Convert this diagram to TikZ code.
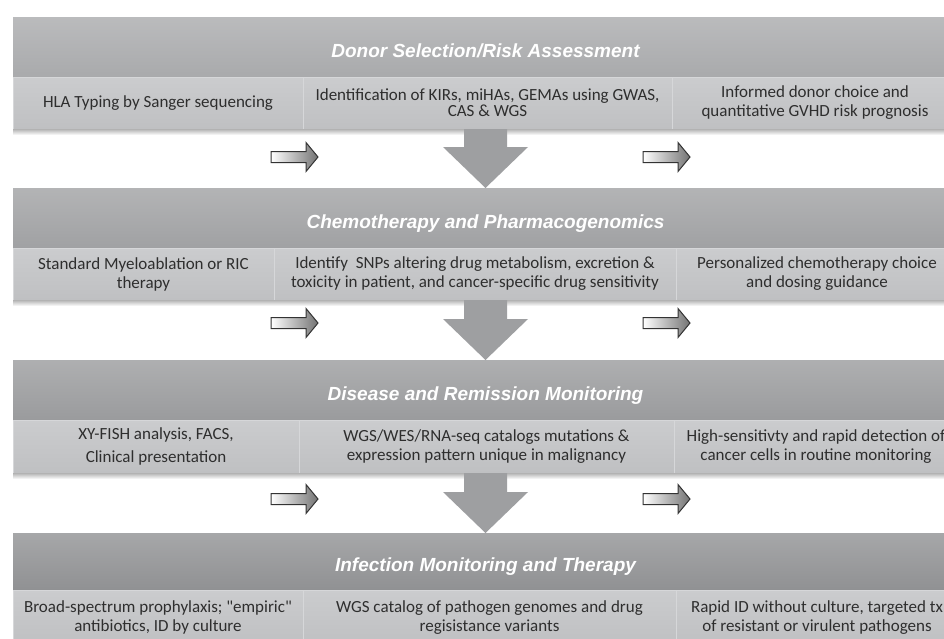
\documentclass[tikz,border=0pt]{standalone}
\usepackage{fontspec}
\setmainfont{Carlito}
\newfontfamily\headfont{Liberation Sans}
\usetikzlibrary{calc}

\definecolor{headA}{HTML}{A9AAAC}
\definecolor{headB}{HTML}{A0A1A3}
\definecolor{headC}{HTML}{9A9B9D}
\definecolor{headD}{HTML}{909193}
\definecolor{cellgray}{HTML}{BFC0C2}
\definecolor{cellhi}{HTML}{CBCCCE}
\definecolor{celledge}{HTML}{D6D7D9}
\definecolor{celltext}{HTML}{2E2E2E}
\definecolor{arrowgray}{HTML}{9E9FA1}

\begin{document}
\begin{tikzpicture}
  [x=1pt,y=-1pt,every node/.style={inner sep=0pt,outer sep=0pt}]
  \tikzstyle{header} = [anchor=north west,minimum width=945pt,minimum height=60pt,
    text height=20pt,text depth=0pt,
    text=white,font=\headfont\bfseries\itshape\fontsize{19}{22}\selectfont]
  \tikzstyle{cell} = [anchor=north west,minimum height=52pt,align=center,
    top color=cellhi,bottom color=cellgray,draw=celledge,line width=0.8pt,
    text=celltext,font=\fontsize{17}{19}\selectfont]
  \tikzstyle{bigarrow} = [fill=arrowgray]
  \tikzstyle{smallarrow} = [left color=white,right color=black!55,draw=black!80,line width=1pt]
  \clip (0,0) rectangle (944,638);
  \fill[white] (0,0) rectangle (944,638);

  % donor selection
  \node[header,top color=headA!80!white,bottom color=headA] (h1) at (13,17) {Donor Selection/Risk Assessment};
  \node[cell,minimum width=290pt] (c11) at (h1.south west) {HLA Typing by Sanger sequencing};
  \node[cell,minimum width=369pt] (c12) at (c11.north east) {Identification of KIRs, miHAs, GEMAs using GWAS,\\[-3pt]CAS \& WGS};
  \node[cell,minimum width=286pt] (c13) at (c12.north east) {Informed donor choice and\\quantitative GVHD risk prognosis};

  % chemotherapy
  \node[header,top color=headB!80!white,bottom color=headB] (h2) at (13,188) {Chemotherapy and Pharmacogenomics};
  \node[cell,minimum width=261pt] (c21) at (h2.south west) {Standard Myeloablation or RIC\\therapy};
  \node[cell,minimum width=402pt] (c22) at (c21.north east) {Identify\ \ SNPs altering drug metabolism, excretion \&\\toxicity in patient, and cancer-specific drug sensitivity};
  \node[cell,minimum width=282pt] (c23) at (c22.north east) {Personalized chemotherapy choice\\and dosing guidance};

  % remission monitoring
  \node[header,top color=headC!80!white,bottom color=headC] (h3) at (13,360) {Disease and Remission Monitoring};
  \node[cell,minimum width=286pt,minimum height=53pt] (c31) at (h3.south west) {XY-FISH analysis, FACS,\\[4pt]Clinical presentation};
  \node[cell,minimum width=375pt,minimum height=53pt] (c32) at (c31.north east) {WGS/WES/RNA-seq catalogs mutations \&\\expression pattern unique in malignancy};
  \node[cell,minimum width=284pt,minimum height=53pt] (c33) at (c32.north east) {High-sensitivty and rapid detection of\\cancer cells in routine monitoring};

  % infection
  \node[header,minimum height=57pt,top color=headD!80!white,bottom color=headD] (h4) at (13,533) {Infection Monitoring and Therapy};
  \node[cell,minimum width=290pt,minimum height=55pt] (c41) at (h4.south west) {Broad-spectrum prophylaxis; \textquotedbl empiric\textquotedbl\\antibiotics, ID by culture};
  \node[cell,minimum width=373pt,minimum height=55pt] (c42) at (c41.north east) {WGS catalog of pathogen genomes and drug\\regisistance variants};
  \node[cell,minimum width=282pt,minimum height=55pt] (c43) at (c42.north east) {Rapid ID without culture, targeted tx\\of resistant or virulent pathogens};

  % shadows under the bands
  \foreach \band in {c11,c21,c31}
    \shade[top color=black!30,bottom color=white] (\band.south west) rectangle ++(945,6);

  % big down arrows
  \foreach \source/\dest in {c12/h2,c22/h3,c32/h4}
    \fill[bigarrow] ($(\dest.north |- \source.south)+(-21.5,0)$) -- ($(\dest.north)+(-21.5,-41)$)
      -- ($(\dest.north)+(-42.5,-41)$) -- (\dest.north) -- ($(\dest.north)+(42.5,-41)$)
      -- ($(\dest.north)+(21.5,-41)$) -- ($(\dest.north |- \source.south)+(21.5,0)$) -- cycle;

  % small side arrows
  \foreach \y in {157,323,499}
    \foreach \x in {271,643}
      \shade[smallarrow] (\x,\y) ++(0,-5.5) -- ++(35,0) -- ++(0,-9) -- ++(12,14.5)
        -- ++(-12,14.5) -- ++(0,-9) -- ++(-35,0) -- cycle;

\end{tikzpicture}
\end{document}
